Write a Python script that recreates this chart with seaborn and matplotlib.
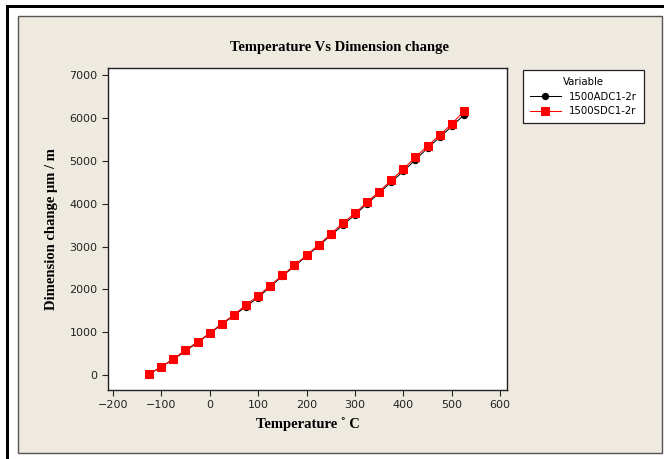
import pandas as pd
import seaborn as sns
import matplotlib.pyplot as plt
from matplotlib.patches import Rectangle

# data
temperature = [-125, -100, -75, -50, -25, 0, 25, 50, 75, 100, 125, 150, 175, 200,
               225, 250, 275, 300, 325, 350, 375, 400, 425, 450, 475, 500, 525]
adc = [20, 190, 365, 560, 760, 970, 1185, 1390, 1600, 1810, 2060, 2310, 2540, 2780,
       3015, 3260, 3500, 3745, 4000, 4250, 4510, 4760, 5030, 5300, 5555, 5805, 6075]
sdc = [25, 195, 375, 585, 770, 980, 1200, 1405, 1640, 1850, 2090, 2330, 2560, 2800,
       3040, 3295, 3545, 3780, 4035, 4285, 4550, 4815, 5085, 5355, 5600, 5865, 6165]
x_ticks = [-200, -100, 0, 100, 200, 300, 400, 500, 600]
y_ticks = [0, 1000, 2000, 3000, 4000, 5000, 6000, 7000]

df_adc = pd.DataFrame({'Temperature': temperature, 'Change': adc})
df_sdc = pd.DataFrame({'Temperature': temperature, 'Change': sdc})

W, H = 664, 459
fig = plt.figure(figsize=(W / 100, H / 100), dpi=100, facecolor='white')

# outer frame + beige panel
fig.patches.append(Rectangle((18 / W, 1 - 453 / H), 644 / W, 437 / H, transform=fig.transFigure,
                             facecolor='#EEEAE0', edgecolor='#555555', linewidth=1.0, zorder=-2))
fig.patches.append(Rectangle((6 / W, 0), 3 / W, 1 - 6 / H, transform=fig.transFigure,
                             facecolor='black', edgecolor='none', zorder=-1))
fig.patches.append(Rectangle((6 / W, 1 - 8 / H), 1 - 6 / W, 2.5 / H, transform=fig.transFigure,
                             facecolor='black', edgecolor='none', zorder=-1))

ax = fig.add_axes([108 / W, 1 - 390 / H, 399 / W, 322 / H])
ax.set_zorder(5)
ax.set_facecolor('white')

sns.lineplot(data=df_adc, x='Temperature', y='Change', ax=ax, color='black', marker='o',
             markersize=4.5, markeredgecolor='black', linewidth=0.75, label='1500ADC1-2r')
sns.lineplot(data=df_sdc, x='Temperature', y='Change', ax=ax, color='red', marker='s',
             markersize=5.8, markeredgecolor='red', linewidth=0.75, label='1500SDC1-2r')

ax.set_xlim(-210, 614)
ax.set_ylim(-350, 7170)
ax.set_xticks(x_ticks)
ax.set_yticks(y_ticks)
ax.tick_params(direction='out', length=4, width=0.8, colors='#222222', labelsize=8,
               labelcolor='#222222')
for s in ax.spines.values():
    s.set_color('#222222')
    s.set_linewidth(1.0)

serif = {'family': 'Liberation Serif', 'weight': 'bold', 'size': 10.5}
ax.set_xlabel('Temperature ˚ C', fontdict=serif, labelpad=5)
ax.set_ylabel('Dimension change μm / m', fontdict=serif, labelpad=8)
fig.text(340 / W, 1 - 47 / H, 'Temperature Vs Dimension change', ha='center', va='center',
         fontdict=serif)

ax.get_legend().remove()
handles, labels = ax.get_legend_handles_labels()
leg = fig.legend(handles, labels, title='Variable', loc='upper left',
                 bbox_to_anchor=(523 / W, 1 - 70 / H), frameon=True, fancybox=False,
                 fontsize=7.3, title_fontsize=7.3, handlelength=3.0, borderpad=0.7,
                 labelspacing=0.45, borderaxespad=0, framealpha=1, facecolor='white')
leg.get_frame().set_edgecolor('#222222')
leg.get_frame().set_linewidth(0.9)
leg.set_zorder(6)

fig.savefig('out.png', dpi=100, facecolor='white')
